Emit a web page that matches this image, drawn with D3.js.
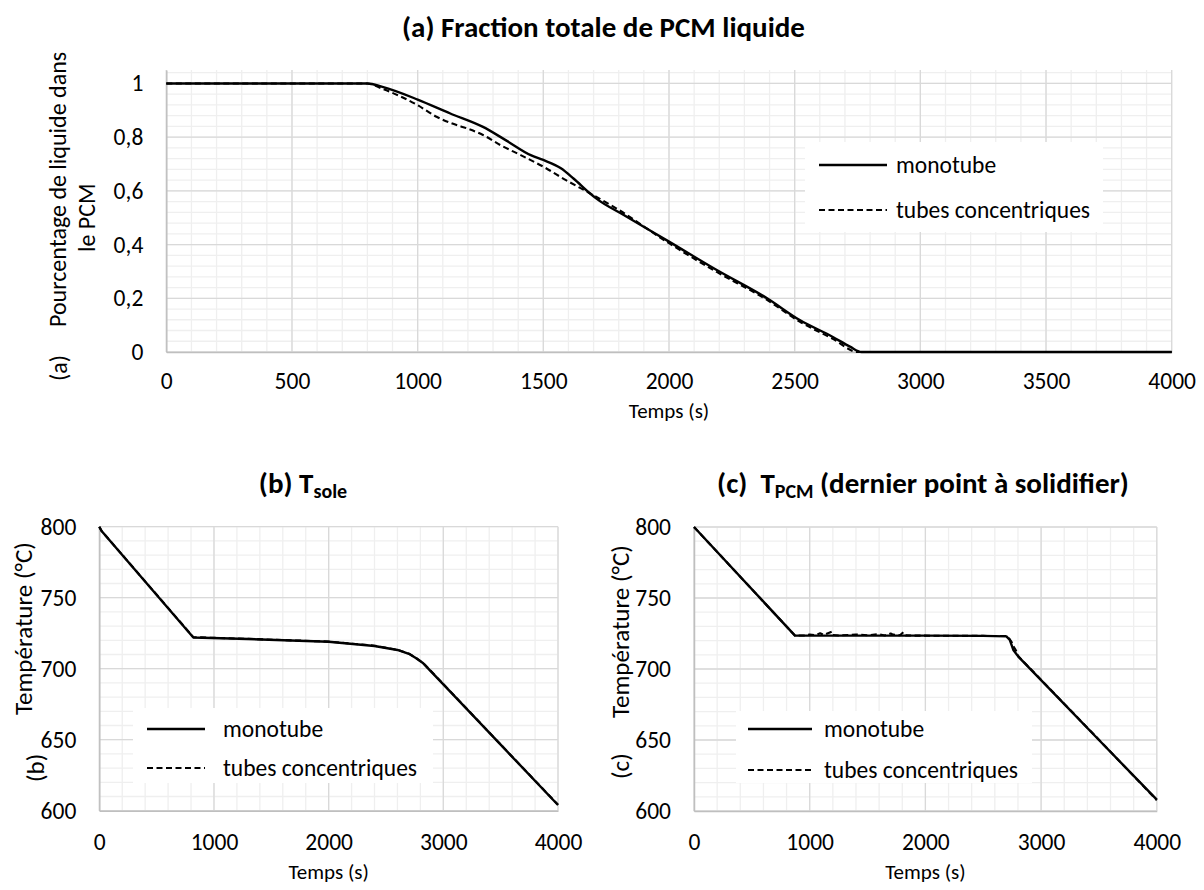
<!DOCTYPE html>
<html>
<head>
<meta charset="utf-8">
<script src="https://cdn.jsdelivr.net/npm/d3@7"></script>
<style>
  html, body { margin: 0; padding: 0; background: #fff; }
  svg { display: block; }
  text { font-family: Carlito, Lato, "Open Sans", sans-serif; fill: #000; }
</style>
</head>
<body>
<svg id="chart" width="1204" height="890"></svg>
<script>
// ---------- DATA ----------
// Panel (a): total liquid PCM fraction vs time (s)
const timeA_mono = [0, 500, 800, 860, 1000, 1130, 1260, 1350, 1450, 1500, 1570, 1620, 1685, 1710, 1820, 2000, 2190, 2390, 2520, 2650, 2720, 2766, 3000, 3500, 4000];
const fracA_mono = [1, 1, 1, 0.987, 0.94, 0.888, 0.838, 0.789, 0.733, 0.715, 0.684, 0.646, 0.591, 0.572, 0.51, 0.411, 0.305, 0.2, 0.119, 0.057, 0.02, 0, 0, 0, 0];
const timeA_conc = [0, 500, 800, 860, 1000, 1075, 1155, 1195, 1260, 1330, 1410, 1500, 1590, 1685, 1790, 2000, 2190, 2390, 2520, 2650, 2752, 3000, 3500, 4000];
const fracA_conc = [1, 1, 1, 0.98, 0.919, 0.876, 0.845, 0.833, 0.808, 0.77, 0.733, 0.69, 0.64, 0.591, 0.535, 0.405, 0.298, 0.194, 0.113, 0.05, 0, 0, 0, 0];

// Panel (b): T_sole (°C)
const timeB_mono = [0, 20, 820, 1300, 2000, 2400, 2600, 2700, 2760, 2825, 3000, 3500, 4000];
const tempB_mono = [800, 797, 722, 720.9, 719, 716, 713.2, 710.5, 707.5, 703.8, 689, 646.5, 604];
const timeB_conc = [0, 20, 820, 1300, 2000, 2400, 2600, 2700, 2765, 2830, 3000, 3500, 4000];
const tempB_conc = [800, 797, 722.2, 721, 719.1, 716.2, 713.3, 710.6, 707.4, 703.6, 689.2, 646.6, 604.2];

// Panel (c): T_PCM, last point to solidify (°C)
const timeC_mono = [0, 873, 1000, 1500, 2000, 2500, 2700, 2730, 2760, 2803, 3163, 3500, 4000];
const tempC_mono = [800, 723.5, 723.5, 723.5, 723.5, 723.3, 723, 720.4, 713.4, 708.7, 678.4, 650, 608];
const timeC_conc = [0, 873, 950, 1000, 1050, 1090, 1120, 1190, 1200, 1250, 1400, 1500, 1600, 1650, 1700, 1720, 1780, 1810, 1830, 1900, 2500, 2700, 2725, 2745, 2760, 2780, 2803, 3163, 3500, 4000];
const tempC_conc = [800, 723.5, 723.6, 724.2, 723.8, 725.2, 724, 726.3, 724, 723.6, 724.3, 723.8, 724.5, 723.6, 725, 724.2, 723.8, 726, 723.7, 723.5, 723.3, 723.2, 721.5, 719, 716, 713.5, 709, 678.6, 650.2, 607.6];

// Tick labels
const ticksA_x = [0, 500, 1000, 1500, 2000, 2500, 3000, 3500, 4000];
const ticksA_y = [0, 0.2, 0.4, 0.6, 0.8, 1];
const ticksBC_x = [0, 1000, 2000, 3000, 4000];
const ticksBC_y = [600, 650, 700, 750, 800];
const seriesNames = ["monotube", "tubes concentriques"];

// ---------- DRAWING ----------
const svg = d3.select("#chart");
svg.append("rect").attr("width", 1204).attr("height", 890).attr("fill", "#fff");

const fmtComma = d => (d === 0 || d === 1) ? String(d) : d.toFixed(1).replace(".", ",");

function panel(cfg) {
  const g = svg.append("g");
  const x = d3.scaleLinear().domain(cfg.xDomain).range([cfg.left, cfg.right]);
  const y = d3.scaleLinear().domain(cfg.yDomain).range([cfg.bottom, cfg.top]);

  // minor grid
  g.selectAll(".mx").data(cfg.minorX).join("line")
    .attr("x1", d => x(d)).attr("x2", d => x(d))
    .attr("y1", cfg.top).attr("y2", cfg.bottom)
    .attr("stroke", "#efefef").attr("stroke-width", 1.3);
  g.selectAll(".my").data(cfg.minorY).join("line")
    .attr("y1", d => y(d)).attr("y2", d => y(d))
    .attr("x1", cfg.left).attr("x2", cfg.right)
    .attr("stroke", "#efefef").attr("stroke-width", 1.3);
  // major grid
  g.selectAll(".Mx").data(cfg.ticksX).join("line")
    .attr("x1", d => x(d)).attr("x2", d => x(d))
    .attr("y1", cfg.top).attr("y2", cfg.bottom)
    .attr("stroke", "#d9d9d9").attr("stroke-width", 1.3);
  g.selectAll(".My").data(cfg.ticksY).join("line")
    .attr("y1", d => y(d)).attr("y2", d => y(d))
    .attr("x1", cfg.left).attr("x2", cfg.right)
    .attr("stroke", "#d9d9d9").attr("stroke-width", 1.3);

  // axes
  const ax = g.append("g").attr("transform", `translate(0,${cfg.bottom})`)
    .call(d3.axisBottom(x).tickValues(cfg.ticksX).tickSize(0).tickFormat(cfg.fmtX || d3.format("d")));
  ax.select(".domain").attr("stroke", "#bfbfbf").attr("stroke-width", 1.5);
  ax.selectAll("text").attr("y", cfg.xLabelOffset).attr("dy", null)
    .style("font-size", cfg.tickSize + "px").style("font-family", null);

  const ay = g.append("g").attr("transform", `translate(${cfg.left},0)`)
    .call(d3.axisLeft(y).tickValues(cfg.ticksY).tickSize(0).tickPadding(cfg.yLabelPad).tickFormat(cfg.fmtY || d3.format("d")));
  ay.select(".domain").attr("stroke", "#bfbfbf").attr("stroke-width", 1.5);
  ay.selectAll("text").style("font-size", cfg.tickSize + "px").style("font-family", null);
  g.selectAll(".domain").attr("fill", "none");
  g.selectAll(".tick text").attr("fill", "#000");

  // lines
  const line = d3.line().x(d => x(d[0])).y(d => y(d[1])).curve(cfg.curve);
  g.append("path").datum(d3.zip(cfg.tMono, cfg.vMono))
    .attr("d", line).attr("fill", "none").attr("stroke", "#000").attr("stroke-width", 2.4)
    .attr("stroke-linejoin", "round");
  g.append("path").datum(d3.zip(cfg.tConc, cfg.vConc))
    .attr("d", line).attr("fill", "none").attr("stroke", "#000").attr("stroke-width", 2.1)
    .attr("stroke-dasharray", "6,3.5").attr("stroke-linejoin", "round");

  // legend
  const L = cfg.legend;
  g.append("rect").attr("x", L.x0).attr("y", L.y0).attr("width", L.x1 - L.x0).attr("height", L.y1 - L.y0).attr("fill", "#fff");
  seriesNames.forEach((name, i) => {
    const yy = L.rows[i];
    g.append("line").attr("x1", L.lx0).attr("x2", L.lx1).attr("y1", yy).attr("y2", yy)
      .attr("stroke", "#000").attr("stroke-width", i === 0 ? 2.4 : 2.1)
      .attr("stroke-dasharray", i === 0 ? null : "6,3.5");
    g.append("text").attr("x", L.tx).attr("y", yy).attr("dy", "0.35em")
      .style("font-size", cfg.legendSize + "px").text(name);
  });

  // axis titles
  g.append("text").attr("x", (cfg.left + cfg.right) / 2).attr("y", cfg.xTitleY)
    .attr("text-anchor", "middle").style("font-size", cfg.xTitleSize + "px").text("Temps (s)");
  cfg.yTitles.forEach(t => {
    g.append("text").attr("transform", `translate(${t.x},${t.y}) rotate(-90)`)
      .attr("text-anchor", "start").style("font-size", cfg.yTitleSize + "px").text(t.text);
  });

  return { x, y };
}

// Panel (a)
panel({
  xDomain: [0, 4000], yDomain: [0, 1.05],
  left: 166.3, right: 1171.7, top: 70, bottom: 352,
  ticksX: ticksA_x, ticksY: ticksA_y,
  minorX: d3.range(0, 4001, 100), minorY: d3.range(0, 1.041, 0.04),
  fmtY: fmtComma, curve: d3.curveMonotoneX,
  xLabelOffset: 37, yLabelPad: 23, tickSize: 23.5, legendSize: 23.5, xTitleSize: 21, yTitleSize: 24,
  tMono: timeA_mono, vMono: fracA_mono, tConc: timeA_conc, vConc: fracA_conc,
  legend: { x0: 805, x1: 1103, y0: 142, y1: 232, lx0: 819, lx1: 887, tx: 896, rows: [165, 210] },
  xTitleY: 418,
  yTitles: [
    { x: 67, y: 381, text: "(a)" },
    { x: 66, y: 327, text: "Pourcentage de liquide dans" },
    { x: 95, y: 252, text: "le PCM" }
  ]
});

// Panel (b)
panel({
  xDomain: [0, 4000], yDomain: [600, 800],
  left: 99.3, right: 558, top: 526.7, bottom: 810.7,
  ticksX: ticksBC_x, ticksY: ticksBC_y, curve: d3.curveLinear,
  minorX: d3.range(0, 4001, 200), minorY: d3.range(600, 801, 10),
  xLabelOffset: 39, yLabelPad: 23, tickSize: 23.5, legendSize: 23.5, xTitleSize: 21, yTitleSize: 25,
  tMono: timeB_mono, vMono: tempB_mono, tConc: timeB_conc, vConc: tempB_conc,
  legend: { x0: 133, x1: 433, y0: 708, y1: 783, lx0: 147, lx1: 205, tx: 223, rows: [729, 768] },
  xTitleY: 879,
  yTitles: [
    { x: 44, y: 782, text: "(b)" },
    { x: 32, y: 715, text: "Température (°C)" }
  ]
});

// Panel (c)
panel({
  xDomain: [0, 4000], yDomain: [600, 800],
  left: 694, right: 1156.8, top: 527, bottom: 811,
  ticksX: ticksBC_x, ticksY: ticksBC_y, curve: d3.curveLinear,
  minorX: d3.range(0, 4001, 200), minorY: d3.range(600, 801, 10),
  xLabelOffset: 39, yLabelPad: 23, tickSize: 23.5, legendSize: 23.5, xTitleSize: 21, yTitleSize: 25,
  tMono: timeC_mono, vMono: tempC_mono, tConc: timeC_conc, vConc: tempC_conc,
  legend: { x0: 736, x1: 1032, y0: 711, y1: 783, lx0: 748, lx1: 812, tx: 824, rows: [729, 770] },
  xTitleY: 879,
  yTitles: [
    { x: 629, y: 779, text: "(c)" },
    { x: 629, y: 718, text: "Température (°C)" }
  ]
});

// Titles
svg.append("text").attr("x", 603.5).attr("y", 37).attr("text-anchor", "middle")
  .style("font-size", "29px").style("font-weight", "bold").text("(a) Fraction totale de PCM liquide");

const tb = svg.append("text").attr("x", 303).attr("y", 493).attr("text-anchor", "middle")
  .style("font-size", "29px").style("font-weight", "bold");
tb.append("tspan").text("(b) T");
tb.append("tspan").attr("dy", 5).style("font-size", "20px").text("sole");

const tc = svg.append("text").attr("x", 923).attr("y", 493).attr("text-anchor", "middle")
  .style("font-size", "29px").style("font-weight", "bold");
tc.append("tspan").text("(c)\u00a0\u00a0T");
tc.append("tspan").attr("dy", 5).style("font-size", "20px").text("PCM");
tc.append("tspan").attr("dy", -5).text(" (dernier point à solidifier)");
</script>
</body>
</html>
